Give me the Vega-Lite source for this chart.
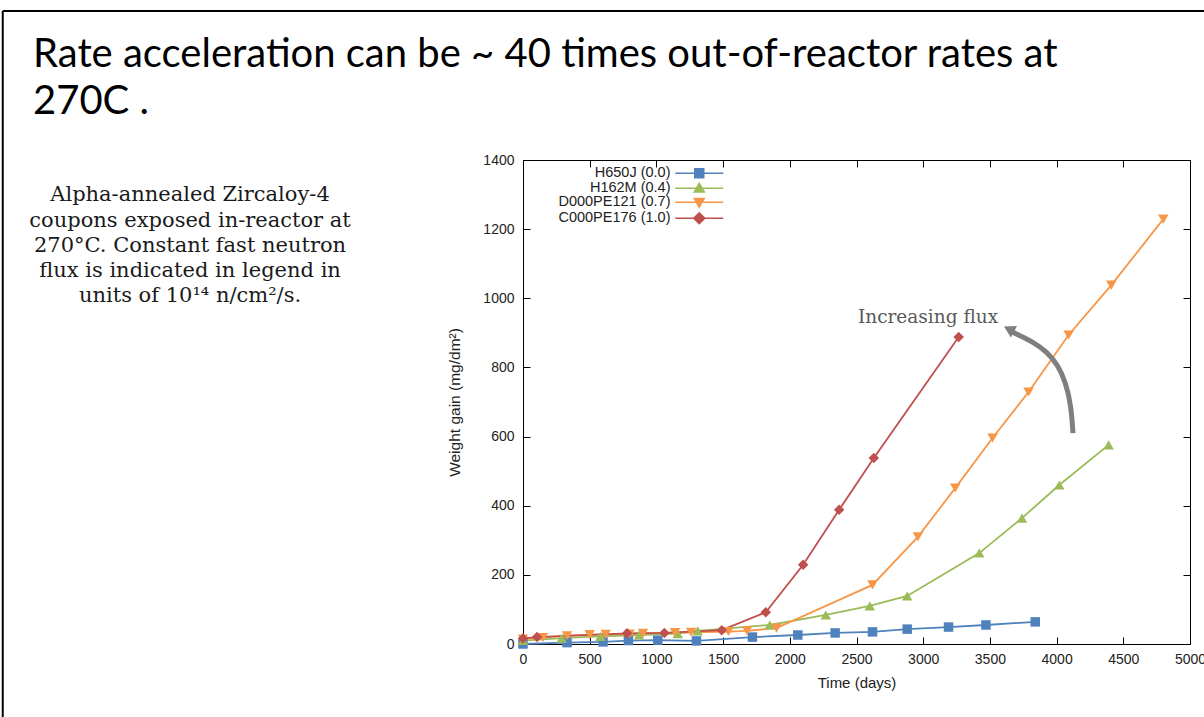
{
  "$schema": "https://vega.github.io/schema/vega-lite/v6.json",
  "width": 667,
  "height": 484,
  "autosize": {"type": "none"},
  "padding": {"left": 523, "top": 160, "right": 14, "bottom": 73},
  "background": "white",
  "config": {
    "view": {"stroke": null},
    "axis": {"grid": false}
  },
  "title": {
    "text": ["Rate acceleration can be ~ 40 times out-of-reactor rates at", "270C ."],
    "anchor": "start",
    "frame": "group",
    "dx": -490,
    "offset": -112,
    "font": "Lato",
    "fontSize": 40,
    "fontWeight": "normal",
    "color": "#000000",
    "lineHeight": 47
  },
  "datasets": {
    "gain": [
      {"series": "H650J (0.0)", "time": 0, "gain": 0},
      {"series": "H650J (0.0)", "time": 330, "gain": 4},
      {"series": "H650J (0.0)", "time": 600, "gain": 6},
      {"series": "H650J (0.0)", "time": 790, "gain": 10},
      {"series": "H650J (0.0)", "time": 1010, "gain": 11},
      {"series": "H650J (0.0)", "time": 1300, "gain": 9},
      {"series": "H650J (0.0)", "time": 1720, "gain": 20},
      {"series": "H650J (0.0)", "time": 2060, "gain": 26},
      {"series": "H650J (0.0)", "time": 2340, "gain": 32},
      {"series": "H650J (0.0)", "time": 2620, "gain": 35},
      {"series": "H650J (0.0)", "time": 2880, "gain": 43},
      {"series": "H650J (0.0)", "time": 3190, "gain": 49},
      {"series": "H650J (0.0)", "time": 3470, "gain": 55},
      {"series": "H650J (0.0)", "time": 3840, "gain": 64},
      {"series": "H162M (0.4)", "time": 0, "gain": 10},
      {"series": "H162M (0.4)", "time": 290, "gain": 17},
      {"series": "H162M (0.4)", "time": 580, "gain": 22},
      {"series": "H162M (0.4)", "time": 870, "gain": 26},
      {"series": "H162M (0.4)", "time": 1160, "gain": 30},
      {"series": "H162M (0.4)", "time": 1310, "gain": 38},
      {"series": "H162M (0.4)", "time": 1850, "gain": 55},
      {"series": "H162M (0.4)", "time": 2270, "gain": 84},
      {"series": "H162M (0.4)", "time": 2600, "gain": 110},
      {"series": "H162M (0.4)", "time": 2880, "gain": 139},
      {"series": "H162M (0.4)", "time": 3420, "gain": 263},
      {"series": "H162M (0.4)", "time": 3740, "gain": 364},
      {"series": "H162M (0.4)", "time": 4020, "gain": 460},
      {"series": "H162M (0.4)", "time": 4390, "gain": 576},
      {"series": "D000PE121 (0.7)", "time": 0, "gain": 14},
      {"series": "D000PE121 (0.7)", "time": 150, "gain": 19},
      {"series": "D000PE121 (0.7)", "time": 330, "gain": 24},
      {"series": "D000PE121 (0.7)", "time": 500, "gain": 27},
      {"series": "D000PE121 (0.7)", "time": 620, "gain": 28},
      {"series": "D000PE121 (0.7)", "time": 800, "gain": 29},
      {"series": "D000PE121 (0.7)", "time": 900, "gain": 31},
      {"series": "D000PE121 (0.7)", "time": 1140, "gain": 33},
      {"series": "D000PE121 (0.7)", "time": 1260, "gain": 34},
      {"series": "D000PE121 (0.7)", "time": 1540, "gain": 36},
      {"series": "D000PE121 (0.7)", "time": 1680, "gain": 38},
      {"series": "D000PE121 (0.7)", "time": 1900, "gain": 46},
      {"series": "D000PE121 (0.7)", "time": 2620, "gain": 171},
      {"series": "D000PE121 (0.7)", "time": 2960, "gain": 310},
      {"series": "D000PE121 (0.7)", "time": 3240, "gain": 451},
      {"series": "D000PE121 (0.7)", "time": 3520, "gain": 596},
      {"series": "D000PE121 (0.7)", "time": 3790, "gain": 729},
      {"series": "D000PE121 (0.7)", "time": 4090, "gain": 894},
      {"series": "D000PE121 (0.7)", "time": 4410, "gain": 1038},
      {"series": "D000PE121 (0.7)", "time": 4800, "gain": 1229},
      {"series": "C000PE176 (1.0)", "time": 0, "gain": 16},
      {"series": "C000PE176 (1.0)", "time": 105, "gain": 20},
      {"series": "C000PE176 (1.0)", "time": 780, "gain": 31},
      {"series": "C000PE176 (1.0)", "time": 1060, "gain": 32},
      {"series": "C000PE176 (1.0)", "time": 1490, "gain": 40},
      {"series": "C000PE176 (1.0)", "time": 1820, "gain": 92},
      {"series": "C000PE176 (1.0)", "time": 2100, "gain": 229},
      {"series": "C000PE176 (1.0)", "time": 2370, "gain": 388},
      {"series": "C000PE176 (1.0)", "time": 2630, "gain": 538},
      {"series": "C000PE176 (1.0)", "time": 3266, "gain": 888}
    ],
    "arrow": [
      {"t": 4123, "w": 610},
      {"t": 4108, "w": 691},
      {"t": 4070, "w": 755},
      {"t": 4010, "w": 807},
      {"t": 3928, "w": 845},
      {"t": 3823, "w": 874},
      {"t": 3711, "w": 894},
      {"t": 3665, "w": 903}
    ]
  },
  "layer": [
    {
      "data": {"name": "gain"},
      "transform": [{"filter": "false"}],
      "mark": {"type": "point", "filled": true, "opacity": 1},
      "encoding": {
        "x": {
          "field": "time", "type": "quantitative",
          "scale": {"domain": [0, 5000], "nice": false, "zero": false},
          "axis": {
            "orient": "top", "labels": false, "title": null,
            "values": [0, 500, 1000, 1500, 2000, 2500, 3000, 3500, 4000, 4500, 5000],
            "tickSize": -7, "tickColor": "#000000", "domainColor": "#000000"
          }
        },
        "y": {
          "field": "gain", "type": "quantitative",
          "scale": {"domain": [0, 1400], "nice": false},
          "axis": {
            "orient": "right", "labels": false, "title": null,
            "values": [0, 200, 400, 600, 800, 1000, 1200, 1400],
            "tickSize": -7, "tickColor": "#000000", "domainColor": "#000000"
          }
        },
        "color": {
          "field": "series", "type": "nominal",
          "scale": {"domain": ["H650J (0.0)", "H162M (0.4)", "D000PE121 (0.7)", "C000PE176 (1.0)"], "range": ["#4F81BD", "#9BBB59", "#F79646", "#C0504D"]},
          "legend": {
            "title": null, "orient": "none", "legendX": 169, "legendY": 6, "padding": 0,
            "labelAlign": "right", "labelOffset": -36, "labelFont": "Liberation Sans", "labelFontSize": 14.5,
            "labelColor": "#222222", "symbolSize": 100, "symbolStrokeWidth": 1.5, "symbolOpacity": 1,
            "rowPadding": -2,
            "encode": {"symbols": {"update": {"stroke": {"scale": "color", "field": "value"}, "strokeWidth": {"value": 1.5}}}}
          }
        },
        "shape": {
          "field": "series", "type": "nominal",
          "scale": {
            "domain": ["H650J (0.0)", "H162M (0.4)", "D000PE121 (0.7)", "C000PE176 (1.0)"],
            "range": [
              "M-4.8,0H4.8M-0.9,-0.9H0.9V0.9H-0.9Z",
              "M-4.8,0H4.8M0,-1L1,0.75H-1Z",
              "M-4.8,0H4.8M0,1L1,-0.75H-1Z",
              "M-4.8,0H4.8M0,-1.1L1.1,0L0,1.1L-1.1,0Z"
            ]
          },
          "legend": {
            "title": null, "orient": "none", "legendX": 169, "legendY": 6, "padding": 0,
            "labelAlign": "right", "labelOffset": -36, "labelFont": "Liberation Sans", "labelFontSize": 14.5,
            "labelColor": "#222222", "symbolSize": 100, "symbolStrokeWidth": 1.5, "symbolOpacity": 1,
            "rowPadding": -2,
            "encode": {"symbols": {"update": {"stroke": {"scale": "color", "field": "value"}, "strokeWidth": {"value": 1.5}}}}
          }
        }
      }
    },
    {
      "data": {"name": "gain"},
      "mark": {"type": "line", "strokeWidth": 1.8},
      "encoding": {
        "x": {
          "field": "time", "type": "quantitative",
          "axis": {
            "orient": "bottom", "format": "d",
            "values": [0, 500, 1000, 1500, 2000, 2500, 3000, 3500, 4000, 4500, 5000],
            "tickSize": -7, "tickColor": "#000000", "domainColor": "#000000",
            "labelFont": "Liberation Sans", "labelFontSize": 14, "labelColor": "#222222",
            "labelPadding": 15, "labelFlush": false, "labelOverlap": false,
            "title": "Time (days)", "titleFont": "Liberation Sans", "titleFontSize": 15,
            "titleFontWeight": "normal", "titleColor": "#222222", "titlePadding": 9
          }
        },
        "y": {
          "field": "gain", "type": "quantitative",
          "axis": {
            "orient": "left", "format": "d",
            "values": [0, 200, 400, 600, 800, 1000, 1200, 1400],
            "tickSize": -7, "tickColor": "#000000", "domainColor": "#000000",
            "labelFont": "Liberation Sans", "labelFontSize": 14, "labelColor": "#222222",
            "labelPadding": 16, "labelFlush": false, "labelOverlap": false,
            "title": "Weight gain (mg/dm²)", "titleFont": "Liberation Sans", "titleFontSize": 15.5,
            "titleFontWeight": "normal", "titleColor": "#222222", "titlePadding": 20
          }
        },
        "color": {"field": "series", "type": "nominal", "legend": null}
      }
    },
    {
      "data": {"name": "gain"},
      "transform": [{"filter": "datum.series === 'H650J (0.0)'"}],
      "mark": {"type": "point", "shape": "square", "filled": true, "opacity": 1, "size": 90},
      "encoding": {
        "x": {"field": "time", "type": "quantitative", "axis": null},
        "y": {"field": "gain", "type": "quantitative", "axis": null},
        "color": {"field": "series", "type": "nominal", "legend": null}
      }
    },
    {
      "data": {"name": "gain"},
      "transform": [{"filter": "datum.series === 'H162M (0.4)'"}],
      "mark": {"type": "point", "shape": "triangle-up", "filled": true, "opacity": 1, "size": 110},
      "encoding": {
        "x": {"field": "time", "type": "quantitative", "axis": null},
        "y": {"field": "gain", "type": "quantitative", "axis": null},
        "color": {"field": "series", "type": "nominal", "legend": null}
      }
    },
    {
      "data": {"name": "gain"},
      "transform": [{"filter": "datum.series === 'D000PE121 (0.7)'"}],
      "mark": {"type": "point", "shape": "triangle-down", "filled": true, "opacity": 1, "size": 110},
      "encoding": {
        "x": {"field": "time", "type": "quantitative", "axis": null},
        "y": {"field": "gain", "type": "quantitative", "axis": null},
        "color": {"field": "series", "type": "nominal", "legend": null}
      }
    },
    {
      "data": {"name": "gain"},
      "transform": [{"filter": "datum.series === 'C000PE176 (1.0)'"}],
      "mark": {"type": "point", "shape": "diamond", "filled": true, "opacity": 1, "size": 110},
      "encoding": {
        "x": {"field": "time", "type": "quantitative", "axis": null},
        "y": {"field": "gain", "type": "quantitative", "axis": null},
        "color": {"field": "series", "type": "nominal", "legend": null}
      }
    },
    {
      "data": {"name": "arrow"},
      "mark": {"type": "line", "interpolate": "basis", "strokeWidth": 5, "color": "#7f7f7f"},
      "encoding": {
        "x": {"field": "t", "type": "quantitative", "axis": null},
        "y": {"field": "w", "type": "quantitative", "axis": null}
      }
    },
    {
      "data": {"values": [{}]},
      "mark": {"type": "point", "shape": "triangle-up", "filled": true, "opacity": 1, "color": "#7f7f7f", "size": 170, "angle": 298},
      "encoding": {
        "x": {"datum": 3643, "type": "quantitative", "axis": null},
        "y": {"datum": 911, "type": "quantitative", "axis": null}
      }
    },
    {
      "data": {"values": [{}]},
      "mark": {"type": "text", "text": "Increasing flux", "font": "DejaVu Serif", "fontSize": 18.5, "color": "#595959", "align": "center", "baseline": "middle"},
      "encoding": {
        "x": {"datum": 3036, "type": "quantitative", "axis": null},
        "y": {"datum": 946, "type": "quantitative", "axis": null}
      }
    },
    {
      "data": {"values": [{}]},
      "mark": {
        "type": "text",
        "text": ["Alpha-annealed Zircaloy-4", "coupons exposed in-reactor at", "270°C.  Constant fast neutron", "flux is indicated in legend in", "units of 10¹⁴ n/cm²/s."],
        "font": "DejaVu Serif", "fontSize": 21, "lineHeight": 25.3, "color": "#1a1a1a", "align": "center", "baseline": "middle"
      },
      "encoding": {
        "x": {"datum": -2496, "type": "quantitative", "axis": null},
        "y": {"datum": 1298, "type": "quantitative", "axis": null}
      }
    },
    {
      "data": {"values": [{}]},
      "mark": {"type": "rule", "color": "#000000", "strokeWidth": 2},
      "encoding": {
        "x": {"datum": -3900, "type": "quantitative", "axis": null},
        "x2": {"datum": 5300},
        "y": {"datum": 1831, "type": "quantitative", "axis": null}
      }
    },
    {
      "data": {"values": [{}]},
      "mark": {"type": "rule", "color": "#000000", "strokeWidth": 2},
      "encoding": {
        "x": {"datum": -3900, "type": "quantitative", "axis": null},
        "y": {"datum": 1831, "type": "quantitative", "axis": null},
        "y2": {"datum": -300}
      }
    }
  ]
}
